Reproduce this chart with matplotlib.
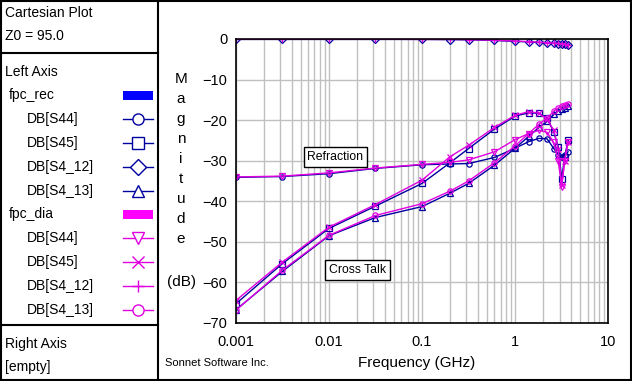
import numpy as np
import matplotlib.pyplot as plt
from matplotlib.patches import Rectangle

plt.rcParams['font.family'] = ['Liberation Sans', 'DejaVu Sans']

# frequency points (GHz)
freq = [0.001, 0.00316, 0.01, 0.0316, 0.1, 0.2, 0.316, 0.6, 1.0, 1.4, 1.8, 2.2, 2.6, 2.9, 3.16, 3.4, 3.7]

# fpc_rec (blue)
rec_s44 = [-34.1, -33.9, -33.2, -31.9, -31.0, -30.8, -30.7, -29.2, -26.9, -25.3, -24.5, -24.6, -27.0, -28.5, -29.2, -28.5, -27.8]
rec_s45 = [-65.3, -55.4, -46.7, -41.2, -35.6, -30.5, -27.0, -22.2, -19.0, -18.2, -18.3, -19.5, -23.0, -26.5, -34.5, -29.0, -25.0]
rec_s4_12 = [-0.1, -0.1, -0.1, -0.1, -0.1, -0.15, -0.2, -0.35, -0.6, -0.7, -0.85, -0.95, -1.05, -1.15, -1.25, -1.35, -1.5]
rec_s4_13 = [-66.8, -57.3, -48.5, -44.0, -41.3, -38.0, -35.6, -31.1, -26.9, -24.0, -21.8, -20.3, -18.6, -17.7, -17.2, -16.9, -16.6]

# fpc_dia (magenta)
dia_s44 = [-34.0, -33.8, -33.0, -31.8, -30.9, -30.4, -29.8, -27.8, -24.8, -23.3, -22.5, -23.0, -25.5, -30.0, -36.5, -30.0, -25.3]
dia_s45 = [-64.5, -55.0, -46.4, -40.8, -34.8, -29.0, -26.2, -21.8, -18.8, -17.9, -18.3, -19.8, -22.5, -27.0, -36.0, -30.0, -25.3]
dia_s4_12 = [-0.05, -0.05, -0.05, -0.05, -0.1, -0.1, -0.15, -0.3, -0.5, -0.65, -0.8, -0.9, -1.0, -1.1, -1.2, -1.3, -1.4]
dia_s4_13 = [-66.9, -57.0, -48.4, -43.5, -40.6, -37.5, -35.0, -30.5, -26.3, -23.3, -21.0, -19.5, -17.8, -17.0, -16.5, -16.2, -15.9]

names = ['DB[S44]', 'DB[S45]', 'DB[S4_12]', 'DB[S4_13]']
rec_marks = ['o', 's', 'D', '^']
dia_marks = ['v', 'x', '+', 'o']
BLUE = '#0000a0'
MAG = '#e000e0'

W, H = 632, 381
fig = plt.figure(figsize=(W / 100, H / 100), dpi=100)

# panel in pixel coords for frame / legend / labels
pan = fig.add_axes([0, 0, 1, 1])
pan.set_xlim(0, W)
pan.set_ylim(H, 0)
pan.axis('off')

x0, x1, y0, y1 = 235.7, 608.3, 39, 323
ax = fig.add_axes([x0 / W, 1 - y1 / H, (x1 - x0) / W, (y1 - y0) / H])

for vals, m in zip([rec_s44, rec_s45, rec_s4_12, rec_s4_13], rec_marks):
    ax.plot(freq, vals, color=BLUE, lw=1, marker=m, ms=3.8, mfc='none', mew=0.9)
for vals, m in zip([dia_s44, dia_s45, dia_s4_12, dia_s4_13], dia_marks):
    ax.plot(freq, vals, color=MAG, lw=1, marker=m, ms=3.8, mfc='none', mew=0.9)

ax.set_xscale('log')
ax.set_xlim(0.001, 10)
ax.set_ylim(-70, 0)
ax.set_yticks(np.arange(-70, 1, 10))
ax.set_xticks([0.001, 0.01, 0.1, 1, 10])
ax.set_xticklabels(['0.001', '0.01', '0.1', '1', '10'])
ax.grid(True, which='both', color='#c0c0c0', lw=1)
ax.set_axisbelow(True)
ax.tick_params(which='both', length=0, labelsize=10.5)
ax.tick_params(axis='y', pad=6)
ax.tick_params(axis='x', pad=9)
for s in ax.spines.values():
    s.set_color('black')
    s.set_linewidth(1.2)

box = dict(boxstyle='square,pad=0.3', fc='white', ec='black', lw=1)
ax.text(0.0117, -29.1, 'Refraction', fontsize=8.8, ha='center', va='center', bbox=box)
ax.text(0.0203, -56.9, 'Cross Talk', fontsize=8.8, ha='center', va='center', bbox=box)

# frame
pan.add_patch(Rectangle((1, 1), W - 2.5, H - 2.5, fill=False, ec='black', lw=1.5))
pan.plot([158, 158], [0, H], color='black', lw=1.5)
pan.plot([0, 158], [53, 53], color='black', lw=1.5)
pan.plot([0, 158], [325, 325], color='black', lw=1.5)

fs = 10
pan.text(5, 13, 'Cartesian Plot', fontsize=fs, va='center')
pan.text(5, 36, 'Z0 = 95.0', fontsize=fs, va='center')
pan.text(5, 72, 'Left Axis', fontsize=fs, va='center')
pan.text(5, 344, 'Right Axis', fontsize=fs, va='center')
pan.text(5, 367, '[empty]', fontsize=fs, va='center')

rows = [('fpc_rec', BLUE, '#0000ff', rec_marks, 95), ('fpc_dia', MAG, '#ff00ff', dia_marks, 214)]
for label, c, rc, marks, yy in rows:
    pan.text(9, yy, label, fontsize=fs, va='center')
    pan.add_patch(Rectangle((123, yy - 4.5), 30, 9, fc=rc, ec='none'))
    for i, (n, m) in enumerate(zip(names, marks)):
        yl = yy + 24 * (i + 1)
        pan.text(27, yl, n, fontsize=fs, va='center')
        pan.plot([123, 153], [yl, yl], color=c, lw=1)
        pan.plot([138], [yl], color=c, marker=m, ms=8, mfc='white', mew=1)

# axis labels
for i, ch in enumerate('Magnitude'):
    pan.text(181, 79 + 20 * i, ch, fontsize=11, ha='center', va='center')
pan.text(181, 282, '(dB)', fontsize=11, ha='center', va='center')
pan.text(417, 363, 'Frequency (GHz)', fontsize=11, ha='center', va='center')
pan.text(165, 363, 'Sonnet Software Inc.', fontsize=8, va='center')

fig.savefig('out.png', dpi=100)
